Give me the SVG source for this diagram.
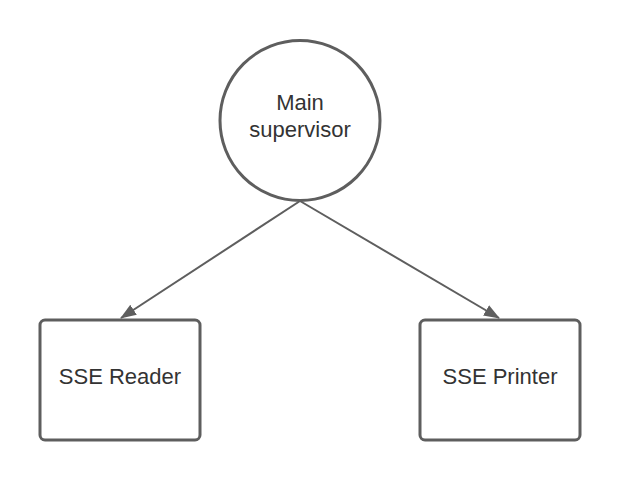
<svg xmlns="http://www.w3.org/2000/svg" width="620" height="480" viewBox="0 0 620 480">
  <style>
    .shape { fill: #ffffff; stroke: #5e5e5e; stroke-width: 3; }
    .conn { fill: none; stroke: #5e5e5e; stroke-width: 2; }
    .label { font-family: "Liberation Sans", Arial, sans-serif; font-size: 22px; fill: #333333; text-anchor: middle; }
  </style>
  <defs>
    <marker id="arrow" markerWidth="16" markerHeight="12" refX="15" refY="6" orient="auto" markerUnits="userSpaceOnUse">
      <path d="M0,0 L16,6 L0,12 Z" fill="#5e5e5e"/>
    </marker>
  </defs>
  <rect width="620" height="480" fill="#ffffff"/>
  <g id="connectors">
    <line class="conn" x1="300" y1="201" x2="121" y2="318" marker-end="url(#arrow)"/>
    <line class="conn" x1="300" y1="201" x2="499" y2="318" marker-end="url(#arrow)"/>
  </g>
  <g id="main-supervisor">
    <circle class="shape" cx="300" cy="120.5" r="80"/>
    <text class="label" x="300" y="110">Main</text>
    <text class="label" x="300" y="137">supervisor</text>
  </g>
  <g id="sse-reader">
    <rect class="shape" x="40" y="320" width="160" height="120" rx="5" ry="5"/>
    <text class="label" x="120" y="384">SSE Reader</text>
  </g>
  <g id="sse-printer">
    <rect class="shape" x="420" y="320" width="160" height="120" rx="5" ry="5"/>
    <text class="label" x="500" y="384">SSE Printer</text>
  </g>
</svg>
